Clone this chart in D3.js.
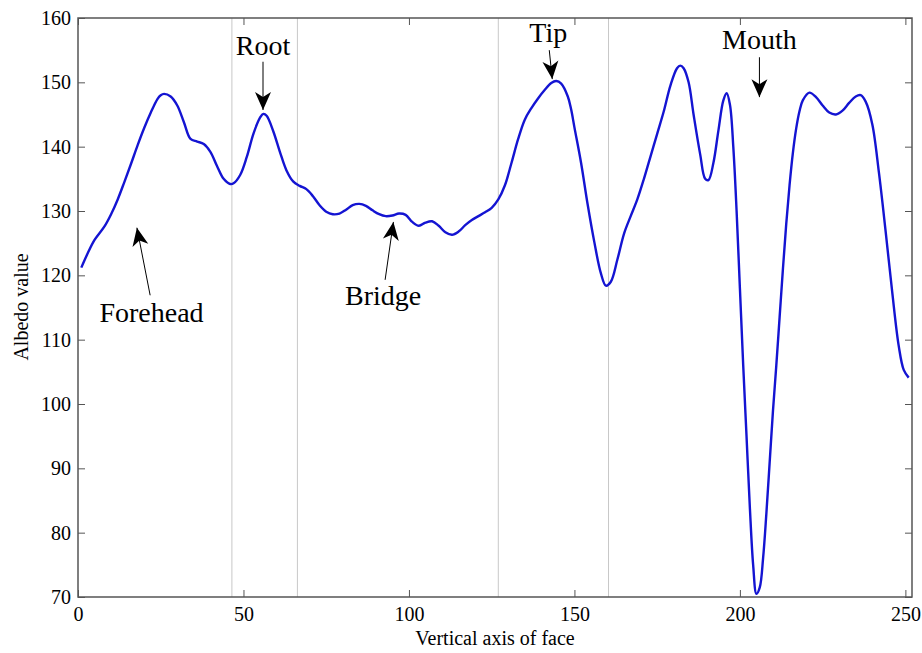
<!DOCTYPE html>
<html>
<head>
<meta charset="utf-8">
<script src="https://cdn.jsdelivr.net/npm/d3@7"></script>
<style>
  body { margin: 0; background: #fff; }
  text { font-family: "Liberation Serif", "Times New Roman", serif; fill: #000; }
</style>
</head>
<body>
<div id="chart"></div>
<script>
// profile of albedo along the vertical axis of the face
const faceX = [1, 3, 5, 8, 10, 12, 14, 16, 18, 20, 22, 24, 25, 26, 28, 30, 32, 34, 36, 38, 40, 42, 44, 46, 47, 49,
  51, 53, 55, 56, 57, 59, 61, 63, 65, 67, 69, 71, 73, 75, 77, 79, 81, 83, 85, 87, 89, 91, 93, 95, 97, 99,
  101, 103, 105, 107, 109, 111, 113, 115, 117, 119, 121, 123, 125, 127, 129, 131, 133, 135, 137, 139, 141, 143, 144.5, 146, 148, 149, 150,
  152, 154, 156, 158, 159.5, 161, 163, 165, 167, 169, 171, 173, 175, 177, 179, 181, 182, 183, 184.5, 186, 188, 189.5, 190.5,
  192, 193.5, 195, 196, 197, 198, 199, 200, 201, 202, 203, 204, 205, 206, 207, 208, 209, 210, 211, 212, 213, 214, 215,
  216, 217, 218, 219, 221, 223, 225, 227, 229, 231, 233, 235, 236.5, 238, 240, 242, 244, 246, 248, 249.5, 251];
const albedo = [121.2, 123.5, 125.5, 127.6, 129.5, 131.8, 134.5, 137.3, 140.2, 142.9, 145.3, 147.4, 148.0, 148.2, 147.8, 146.4, 143.8, 141.2, 140.8, 140.4, 139.2, 137.0, 135.0, 134.2, 134.3, 135.6,
  138.4, 142.0, 144.5, 145.1, 144.8, 142.4, 139.2, 136.3, 134.6, 133.9, 133.4, 132.3, 130.9, 129.9, 129.5, 129.6, 130.2, 130.9, 131.1, 130.8, 130.1, 129.5, 129.2, 129.3, 129.6, 129.4,
  128.3, 127.7, 128.2, 128.4, 127.7, 126.7, 126.3, 126.8, 127.8, 128.6, 129.2, 129.8, 130.5, 131.8, 134.0, 137.5, 141.2, 144.2, 146.0, 147.5, 148.8, 149.9, 150.2, 149.8, 147.8, 145.8, 143.0,
  137.5, 131.0, 125.2, 120.3, 118.4, 119.0, 122.5, 126.5, 129.2, 131.8, 135.0, 138.5, 142.0, 145.5, 149.5, 152.2, 152.6, 152.2, 150.0, 145.0, 138.8, 135.0, 134.8,
  137.5, 142.5, 147.2, 148.3, 146.5, 140.0, 130.0, 118.0, 106.0, 95.0, 84.0, 75.0, 70.5, 71.5, 76.0, 83.0, 91.0, 99.0, 106.0, 113.5, 121.0, 128.0, 134.0,
  139.0, 142.8, 145.5, 147.2, 148.4, 147.7, 146.4, 145.3, 145.0, 145.6, 146.8, 147.8, 148.0, 147.0, 143.5, 136.0, 127.0, 117.5, 109.0, 105.3, 104.1];

// region boundaries (thin grey lines)
const boundaries = [46.5, 66.3, 127, 160.3];

const xTicks = [0, 50, 100, 150, 200, 250];
const yTicks = [70, 80, 90, 100, 110, 120, 130, 140, 150, 160];

// annotation labels: text anchor and arrow from -> to, in data units
const labels = ["Root", "Forehead", "Bridge", "Tip", "Mouth"];
const labelX = [55.9, 22.2, 92.2, 142.1, 205.9];
const labelY = [154.2, 112.7, 115.4, 156.3, 155.2];
const arrowFrom = [[55.9, 153.2], [21.8, 116.9], [92.8, 119.3], [142.4, 155.0], [205.9, 153.9]];
const arrowTo = [[55.9, 145.7], [17.8, 127.4], [95.3, 128.3], [143.3, 150.5], [205.9, 147.7]];

const width = 922, height = 653;
const margin = {top: 18, right: 10, bottom: 56, left: 78};

const svg = d3.select("#chart").append("svg")
  .attr("width", width)
  .attr("height", height);

const x = d3.scaleLinear().domain([0, 252]).range([margin.left, width - margin.right]);
const y = d3.scaleLinear().domain([70, 160]).range([height - margin.bottom, margin.top]);

// arrow head
svg.append("defs").append("marker")
  .attr("id", "head")
  .attr("viewBox", "-2 -10 22 20")
  .attr("refX", 18)
  .attr("refY", 0)
  .attr("markerUnits", "userSpaceOnUse")
  .attr("markerWidth", 22)
  .attr("markerHeight", 20)
  .attr("orient", "auto")
  .append("path")
  .attr("d", "M0,-8L18,0L0,8L5,0Z")
  .attr("fill", "#000");

// boundaries
svg.selectAll(".bound").data(boundaries).enter().append("line")
  .attr("class", "bound")
  .attr("x1", d => x(d)).attr("x2", d => x(d))
  .attr("y1", y(70)).attr("y2", y(160))
  .attr("stroke", "#c8c8c8")
  .attr("stroke-width", 1);

// axes, ticks pointing inward on all sides
const tickLen = 7;
const styleAxis = g => {
  g.select(".domain").remove();
  g.selectAll(".tick line").attr("stroke", "#555");
  g.selectAll("text").attr("font-size", 20).attr("font-family", "Liberation Serif");
};

svg.append("g")
  .attr("transform", `translate(0,${y(70)})`)
  .call(d3.axisBottom(x).tickValues(xTicks).tickSize(-tickLen).tickPadding(10))
  .call(styleAxis);
svg.append("g")
  .attr("transform", `translate(0,${y(160)})`)
  .call(d3.axisTop(x).tickValues(xTicks).tickSize(-tickLen).tickFormat(""))
  .call(styleAxis);
svg.append("g")
  .attr("transform", `translate(${x(0)},0)`)
  .call(d3.axisLeft(y).tickValues(yTicks).tickSize(-tickLen).tickPadding(7))
  .call(styleAxis);
svg.append("g")
  .attr("transform", `translate(${x(252)},0)`)
  .call(d3.axisRight(y).tickValues(yTicks).tickSize(-tickLen).tickFormat(""))
  .call(styleAxis);

// box
svg.append("rect")
  .attr("x", x(0)).attr("y", y(160))
  .attr("width", x(252) - x(0)).attr("height", y(70) - y(160))
  .attr("fill", "none")
  .attr("stroke", "#555")
  .attr("stroke-width", 1.5);

// curve
const line = d3.line()
  .x((d, i) => x(faceX[i]))
  .y(d => y(d))
  .curve(d3.curveCatmullRom.alpha(0.5));

svg.append("path")
  .datum(albedo)
  .attr("d", line)
  .attr("fill", "none")
  .attr("stroke", "#1414d2")
  .attr("stroke-width", 2.4)
  .attr("stroke-linejoin", "round");

// annotations
labels.forEach((t, i) => {
  svg.append("line")
    .attr("x1", x(arrowFrom[i][0])).attr("y1", y(arrowFrom[i][1]))
    .attr("x2", x(arrowTo[i][0])).attr("y2", y(arrowTo[i][1]))
    .attr("stroke", "#000")
    .attr("stroke-width", 1)
    .attr("marker-end", "url(#head)");
  svg.append("text")
    .attr("x", x(labelX[i]))
    .attr("y", y(labelY[i]))
    .attr("text-anchor", "middle")
    .attr("font-size", 28)
    .text(t);
});

// axis titles
svg.append("text")
  .attr("x", 495)
  .attr("y", 645)
  .attr("text-anchor", "middle")
  .attr("font-size", 20)
  .text("Vertical axis of face");

svg.append("text")
  .attr("transform", "translate(28,307) rotate(-90)")
  .attr("text-anchor", "middle")
  .attr("font-size", 20)
  .text("Albedo value");
</script>
</body>
</html>
